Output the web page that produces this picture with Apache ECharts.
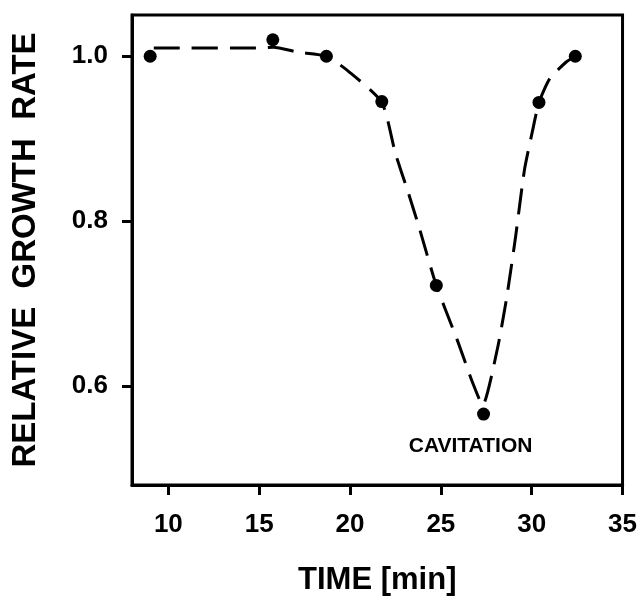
<!DOCTYPE html>
<html>
<head>
<meta charset="utf-8">
<title>Relative growth rate</title>
<script src="https://cdn.jsdelivr.net/npm/echarts@6/dist/echarts.min.js"></script>
<style>
  html, body { margin: 0; padding: 0; background: #fff; }
  #chart { width: 640px; height: 603px; }
</style>
</head>
<body>
<div id="chart"></div>
<script type="text/javascript">
// measured points
var timeMin = [9.0, 15.75, 18.7, 21.75, 24.75, 27.35, 30.4, 32.4];
var growthRate = [1.0, 1.02, 1.0, 0.945, 0.722, 0.566, 0.944, 1.0];

// dashed fitted curve
var curveTime = [9.2, 15.0, 15.8, 17.1, 18.7, 19.9, 21.75, 22.5, 23.2, 23.85, 24.75, 25.9, 26.75, 27.3, 28.1, 28.6, 29.1, 29.6, 30.05, 30.4, 31.0, 31.9, 32.4];
var curveRate = [1.01, 1.01, 1.011, 1.005, 1.0, 0.982, 0.944, 0.882, 0.835, 0.789, 0.722, 0.656, 0.604, 0.577, 0.644, 0.704, 0.779, 0.862, 0.91, 0.944, 0.973, 0.993, 1.0];

var xTicks = [10, 15, 20, 25, 30, 35];
var yTicks = [0.6, 0.8, 1.0];
var noteText = 'CAVITATION';
var noteIndex = 5;

var font = '"Liberation Sans", Arial, sans-serif';

var pointData = timeMin.map(function (t, i) {
    var item = { value: [t, growthRate[i]] };
    if (i === noteIndex) {
        item.label = {
            show: true,
            position: 'bottom',
            distance: 15,
            offset: [-13, 0],
            formatter: noteText,
            color: '#000',
            opacity: 1,
            fontFamily: font,
            fontWeight: 'bold',
            fontSize: 21
        };
    }
    return item;
});
var curveData = curveTime.map(function (t, i) { return [t, curveRate[i]]; });

var myChart = echarts.init(document.getElementById('chart'));
var option = {
    backgroundColor: '#fff',
    animation: false,
    grid: {
        left: 132, right: 17, top: 15, bottom: 118,
        show: true, borderColor: '#000', borderWidth: 3
    },
    xAxis: {
        type: 'value',
        min: 8, max: 35,
        name: 'TIME [min]',
        nameLocation: 'middle',
        nameGap: 80,
        nameTextStyle: { color: '#000', fontFamily: font, fontWeight: 'bold', fontSize: 31 },
        splitLine: { show: false },
        axisLine: { show: true, lineStyle: { color: '#000', width: 3 } },
        axisTick: { show: true, customValues: xTicks, length: 10, lineStyle: { color: '#000', width: 3 } },
        axisLabel: {
            customValues: xTicks, margin: 27,
            color: '#000', fontFamily: font, fontWeight: 'bold', fontSize: 26
        }
    },
    yAxis: {
        type: 'value',
        min: 0.48, max: 1.05,
        name: 'RELATIVE  GROWTH  RATE',
        nameLocation: 'middle',
        nameGap: 90,
        nameTextStyle: { color: '#000', fontFamily: font, fontWeight: 'bold', fontSize: 33 },
        splitLine: { show: false },
        axisLine: { show: true, lineStyle: { color: '#000', width: 3 } },
        axisTick: { show: true, customValues: yTicks, length: 10, lineStyle: { color: '#000', width: 3 } },
        axisLabel: {
            customValues: yTicks, margin: 24,
            formatter: function (v) { return v.toFixed(1); },
            color: '#000', fontFamily: font, fontWeight: 'bold', fontSize: 26
        }
    },
    series: [
        {
            type: 'line',
            data: curveData,
            smooth: 0.2,
            showSymbol: false,
            symbol: 'none',
            lineStyle: { color: '#000', width: 3, type: [26, 12] }
        },
        {
            type: 'scatter',
            data: pointData,
            symbol: 'circle',
            symbolSize: 13,
            itemStyle: { color: '#000', opacity: 1 }
        }
    ]
};
myChart.setOption(option);
</script>
</body>
</html>
